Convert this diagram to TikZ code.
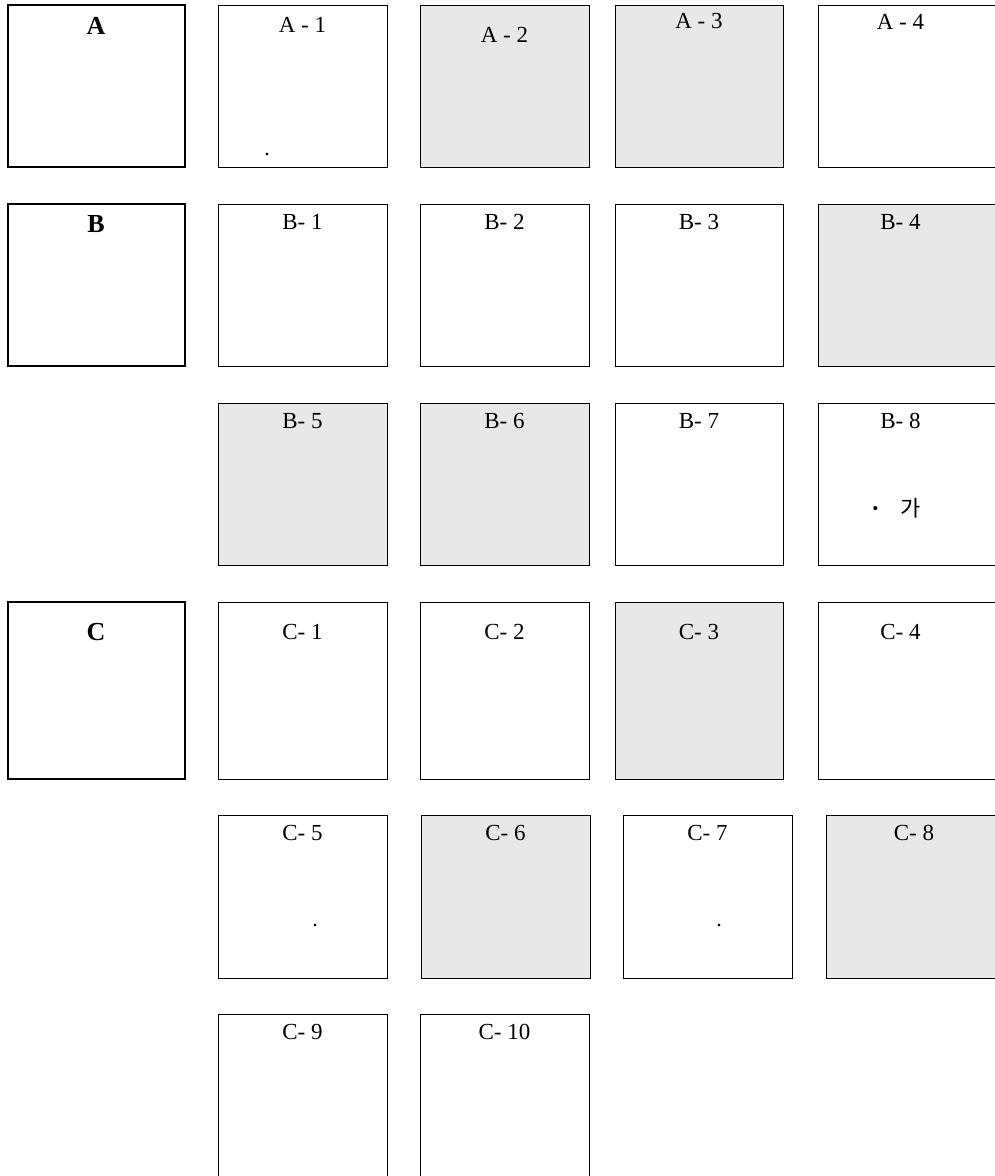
\documentclass[tikz,border=0pt]{standalone}
\usepackage{fontspec}
\setmainfont{Liberation Serif}
\newfontfamily\krfont{Noto Sans CJK KR}
\usetikzlibrary{calc}
\definecolor{cellgrey}{HTML}{E8E8E8}
\begin{document}
\begin{tikzpicture}[x=1pt,y=-1pt,
  cellbox/.style={draw=black, line width=0.9pt, anchor=north west, inner sep=0pt, outer sep=0pt, minimum width=169pt, minimum height=162pt},
  headbox/.style={draw=black, line width=2pt, anchor=north west, inner sep=0pt, outer sep=0pt, minimum width=177pt, minimum height=162pt},
  grey/.style={fill=cellgrey},
  lbl/.style={font=\fontsize{23}{23}\selectfont, inner sep=0pt},
  hlbl/.style={font=\fontsize{26}{26}\selectfont\bfseries, inner sep=0pt},
  dotlbl/.style={font=\fontsize{22}{22}\selectfont, inner sep=0pt}]
\useasboundingbox[fill=white] (0,0) rectangle (994,1176);
% Row A
\node[headbox] (A) at (8,5) {};
\node[hlbl] (Al) at (96,26) {A};
\node[cellbox] (A1) at (218,5) {};
\node[cellbox,grey] (A2) at (420,5) {};
\node[cellbox,grey,minimum width=168pt] (A3) at (615,5) {};
\node[cellbox,minimum width=177pt] (A4) at (818,5) {};
\node[lbl] at ($(A1.north)+(0,20)$) {A - 1};
\node[lbl] at ($(A2.north)+(0,30)$) {A - 2};
\node[lbl] at ($(A3.north)+(0,16)$) {A - 3};
\node[lbl] at ($(A4.north)+(-6,17)$) {A - 4};
\node[dotlbl] (A1d) at (267,155) {.};
% Row B
\node[headbox] (B) at (8,204) {};
\node[hlbl] (Bl) at (96,224) {B};
\node[cellbox] (B1) at (218,204) {};
\node[cellbox] (B2) at (420,204) {};
\node[cellbox,minimum width=168pt] (B3) at (615,204) {};
\node[cellbox,grey,minimum width=177pt] (B4) at (818,204) {};
\node[lbl] at ($(B1.north)+(0,18)$) {B- 1};
\node[lbl] at ($(B2.north)+(0,18)$) {B- 2};
\node[lbl] at ($(B3.north)+(0,18)$) {B- 3};
\node[lbl] at ($(B4.north)+(-6,18)$) {B- 4};
% Row B2
\node[cellbox,grey] (B5) at (218,403) {};
\node[cellbox,grey] (B6) at (420,403) {};
\node[cellbox,minimum width=168pt] (B7) at (615,403) {};
\node[cellbox,minimum width=177pt] (B8) at (818,403) {};
\node[lbl] at ($(B5.north)+(0,18)$) {B- 5};
\node[lbl] at ($(B6.north)+(0,18)$) {B- 6};
\node[lbl] at ($(B7.north)+(0,18)$) {B- 7};
\node[lbl] at ($(B8.north)+(-6,18)$) {B- 8};
\node[font=\fontsize{30}{30}\krfont, inner sep=0pt] (B8d) at (876,513) {·};
\node[font=\fontsize{22}{22}\krfont, inner sep=0pt] (B8k) at (911,508) {가};
% Row C
\node[headbox,minimum height=177pt] (C) at (8,602) {};
\node[hlbl] (Cl) at (96,632) {C};
\node[cellbox,minimum height=177pt] (C1) at (218,602) {};
\node[cellbox,minimum height=177pt] (C2) at (420,602) {};
\node[cellbox,grey,minimum width=168pt,minimum height=177pt] (C3) at (615,602) {};
\node[cellbox,minimum width=177pt,minimum height=177pt] (C4) at (818,602) {};
\node[lbl] at ($(C1.north)+(0,30)$) {C- 1};
\node[lbl] at ($(C2.north)+(0,30)$) {C- 2};
\node[lbl] at ($(C3.north)+(0,30)$) {C- 3};
\node[lbl] at ($(C4.north)+(-6,30)$) {C- 4};
% Row C2
\node[cellbox,minimum height=163pt] (C5) at (218,815) {};
\node[cellbox,grey,minimum height=163pt] (C6) at (421,815) {};
\node[cellbox,minimum height=163pt] (C7) at (623,815) {};
\node[cellbox,grey,minimum width=170pt,minimum height=163pt] (C8) at (826,815) {};
\node[lbl] at ($(C5.north)+(0,18)$) {C- 5};
\node[lbl] at ($(C6.north)+(0,18)$) {C- 6};
\node[lbl] at ($(C7.north)+(0,18)$) {C- 7};
\node[lbl] at ($(C8.north)+(3,18)$) {C- 8};
\node[dotlbl] (C5d) at (315,925) {.};
\node[dotlbl] (C7d) at (719,925) {.};
% Row C3
\node[cellbox,minimum height=175pt] (C9) at (218,1014) {};
\node[cellbox,minimum height=175pt] (C10) at (420,1014) {};
\node[lbl] at ($(C9.north)+(0,18)$) {C- 9};
\node[lbl] at ($(C10.north)+(0,18)$) {C- 10};
\end{tikzpicture}
\end{document}
